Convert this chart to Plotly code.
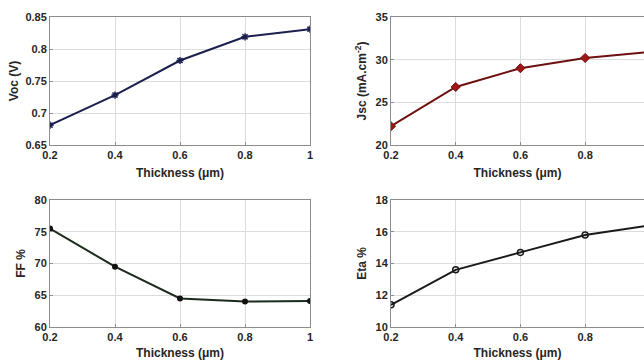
import plotly.graph_objects as go

thickness = [0.2, 0.4, 0.6, 0.8, 1.0]
voc = [0.681, 0.728, 0.782, 0.819, 0.831]
jsc = [22.2, 26.8, 29.0, 30.2, 30.9]
ff = [75.5, 69.5, 64.5, 64.0, 64.1]
eta = [11.4, 13.6, 14.7, 15.8, 16.4]

W, H = 644, 360
FONT = "Liberation Sans, Arial, sans-serif"

def px(a, b):
    return [a / W, b / W]

def py(top, bot):
    return [1 - bot / H, 1 - top / H]

fig = go.Figure()

fig.add_trace(go.Scatter(x=thickness, y=voc, mode="lines+markers", xaxis="x", yaxis="y",
                         line=dict(color="#1b1f4d", width=2),
                         marker=dict(symbol="asterisk", size=6, color="#1b1f4d",
                                     line=dict(color="#1b1f4d", width=1.5))))
fig.add_trace(go.Scatter(x=thickness, y=jsc, mode="lines+markers", xaxis="x2", yaxis="y2",
                         line=dict(color="#6e1010", width=2),
                         marker=dict(symbol="diamond", size=7, color="#a01515",
                                     line=dict(color="#6e1010", width=1))))
fig.add_trace(go.Scatter(x=thickness, y=ff, mode="lines+markers", xaxis="x3", yaxis="y3",
                         line=dict(color="#1c2b1c", width=2),
                         marker=dict(symbol="circle", size=6, color="#111111")))
fig.add_trace(go.Scatter(x=thickness, y=eta, mode="lines+markers", xaxis="x4", yaxis="y4",
                         line=dict(color="#1a1a1a", width=2),
                         marker=dict(symbol="circle-open", size=6, color="#1a1a1a",
                                     line=dict(width=1.5))))

tickfont = dict(family=FONT, size=11, color="#262626")
titlefont = dict(family=FONT, size=12, color="#262626")

def xax(dom, anchor, rng, standoff):
    return dict(domain=dom, anchor=anchor, range=rng,
                tickvals=[0.2, 0.4, 0.6, 0.8, 1.0],
                ticktext=["<b>0.2</b>", "<b>0.4</b>", "<b>0.6</b>", "<b>0.8</b>", "<b>1</b>"],
                showgrid=True, gridcolor="#dcdcdc", gridwidth=1,
                showline=True, linecolor="#8c8c8c", linewidth=1, mirror=True,
                ticks="inside", ticklen=3, tickcolor="#8c8c8c",
                tickfont=tickfont, zeroline=False, automargin=False,
                title=dict(text="<b>Thickness (μm)</b>", font=titlefont, standoff=standoff))

def yax(dom, anchor, rng, tv, tt, title, mirror=True, standoff=6):
    return dict(domain=dom, anchor=anchor, range=rng, tickvals=tv,
                ticktext=["<b>%s</b>" % t for t in tt],
                showgrid=True, gridcolor="#dcdcdc", gridwidth=1,
                showline=True, linecolor="#8c8c8c", linewidth=1, mirror=mirror,
                ticks="inside", ticklen=3, tickcolor="#8c8c8c",
                tickfont=tickfont, zeroline=False, automargin=False,
                title=dict(text=title, font=titlefont, standoff=standoff))

xl = px(50, 310)
xr = px(391, 644)
yt = py(17, 145)
yb = py(200, 327)

fig.update_layout(
    width=W, height=H, margin=dict(l=0, r=0, t=0, b=0),
    paper_bgcolor="white", plot_bgcolor="white", showlegend=False,
    xaxis=xax(xl, "y", [0.2, 1.0], 8),
    yaxis=yax(yt, "x", [0.65, 0.85], [0.65, 0.7, 0.75, 0.8, 0.85],
              ["0.65", "0.7", "0.75", "0.8", "0.85"], "<b>Voc (V)</b>", standoff=4),
    xaxis2=xax(xr, "y2", [0.2, 0.982], 8),
    yaxis2=yax(yt, "x2", [20, 35], [20, 25, 30, 35], ["20", "25", "30", "35"],
               "<b>Jsc (mA.cm<sup>-2</sup>)</b>", mirror=False),
    xaxis3=xax(xl, "y3", [0.2, 1.0], 7),
    yaxis3=yax(yb, "x3", [60, 80], [60, 65, 70, 75, 80], ["60", "65", "70", "75", "80"], "<b>FF %</b>"),
    xaxis4=xax(xr, "y4", [0.2, 0.982], 7),
    yaxis4=yax(yb, "x4", [10, 18], [10, 12, 14, 16, 18], ["10", "12", "14", "16", "18"],
               "<b>Eta %</b>", mirror=False),
)

fig.write_html(
    "out.html",
    config={"displayModeBar": False},
    post_script="document.body.style.margin='0';document.body.style.overflow='hidden';",
)
